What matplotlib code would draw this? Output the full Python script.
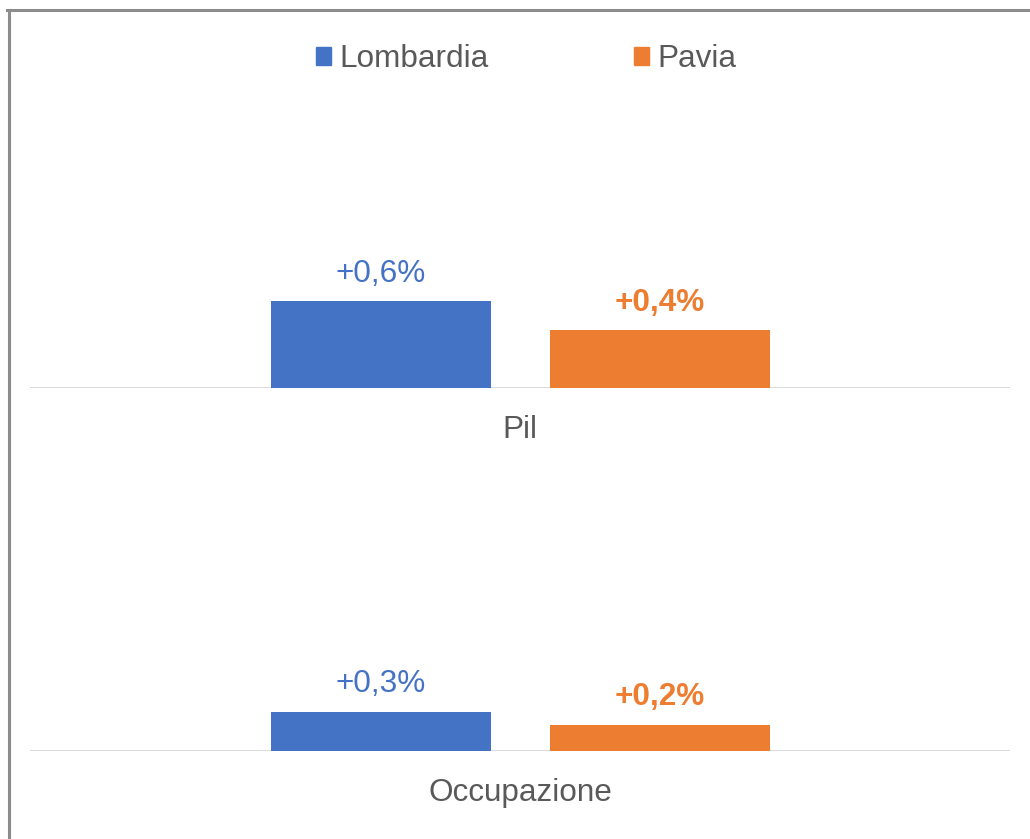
import matplotlib
matplotlib.use("Agg")
import matplotlib.pyplot as plt
from matplotlib.patches import Patch
from matplotlib.lines import Line2D

plt.rcParams['font.family'] = ['Liberation Sans', 'DejaVu Sans']

categories = ["Pil", "Occupazione"]
series = ["Lombardia", "Pavia"]
lombardia = [0.6, 0.3]
pavia = [0.4, 0.2]
labels_lombardia = ["+0,6%", "+0,3%"]
labels_pavia = ["+0,4%", "+0,2%"]

blue = "#4472C4"
orange = "#ED7D31"
text_gray = "#595959"
FS = 22.7

W, H = 1030, 839
fig = plt.figure(figsize=(W / 100, H / 100), dpi=100)

# frame lines (top and left)
fig.add_artist(Line2D([7 / W, 1.0], [1 - 9.5 / H, 1 - 9.5 / H], color="#8c8c8c", lw=2.2,
                      transform=fig.transFigure))
fig.add_artist(Line2D([8.5 / W, 8.5 / W], [0, 1 - 9.5 / H], color="#8c8c8c", lw=2.2,
                      transform=fig.transFigure))

panels = [
    # (top px, baseline px, ymax)
    (100, 388, 288 / 145),
    (491, 751, 260 / 130),
]

bw = 220 / 980
off = 139.5 / 980
for i, (top_px, base_px, ymax) in enumerate(panels):
    ax = fig.add_axes([30 / W, 1 - base_px / H, 980 / W, (base_px - top_px) / H])
    ax.bar([-off], [lombardia[i]], width=bw, color=blue, zorder=2)
    ax.bar([off], [pavia[i]], width=bw, color=orange, zorder=2)
    ax.set_xlim(-0.5, 0.5)
    ax.set_ylim(0, ymax)
    ax.axhline(0, color="#d4d4d4", lw=1.9, zorder=1)
    for s in ax.spines.values():
        s.set_visible(False)
    ax.set_yticks([])
    ax.set_xticks([0])
    ax.set_xticklabels([categories[i]], fontsize=FS, color=text_gray)
    ax.tick_params(axis="x", length=0, pad=19.5)
    ax.annotate(labels_lombardia[i], (-off, lombardia[i]), xytext=(0, 9),
                textcoords="offset points", ha="center", va="bottom",
                fontsize=FS, color=blue)
    ax.annotate(labels_pavia[i], (off, pavia[i]), xytext=(0, 9),
                textcoords="offset points", ha="center", va="bottom",
                fontsize=FS, color=orange, fontweight="bold")

handles = [Patch(color=blue, label=series[0]), Patch(color=orange, label=series[1])]
fig.legend(handles=handles, loc="center", bbox_to_anchor=(526 / W, 1 - 59 / H), ncol=2,
           frameon=False, fontsize=FS, labelcolor=text_gray,
           handlelength=0.5, handleheight=0.5, handletextpad=0.25, columnspacing=4.6,
           borderpad=0, borderaxespad=0)

fig.savefig("out.png", dpi=100, facecolor="white")
